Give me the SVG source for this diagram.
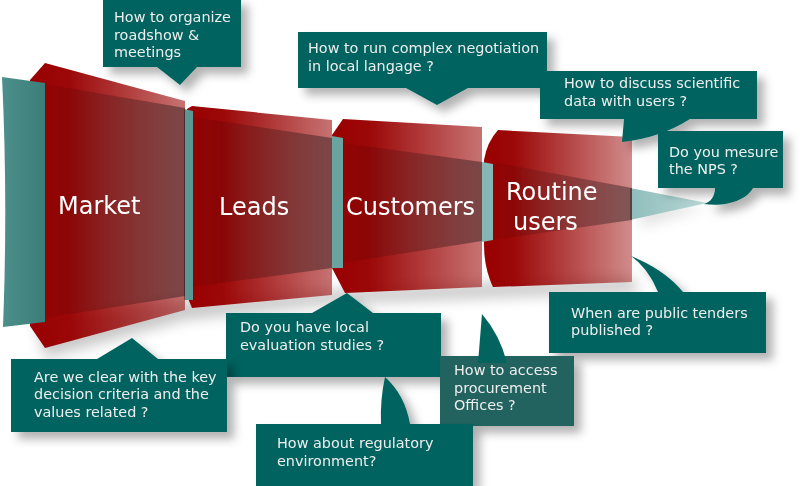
<svg xmlns="http://www.w3.org/2000/svg" width="800" height="486" viewBox="0 0 800 486">
<defs>
<style>
.call{fill:#03645f;filter:url(#ds)}
.ct{fill:#eeeeee}
.lt{fill:#ffffff}
.outer{fill:url(#gOuter)}
.inner{fill:url(#gInner)}
</style>
<filter id="ds" x="-20%" y="-20%" width="150%" height="160%">
<feDropShadow dx="7" dy="7" stdDeviation="5" flood-color="#000" flood-opacity="0.3"/>
</filter>
<filter id="blur" x="-20%" y="-20%" width="140%" height="160%">
<feGaussianBlur stdDeviation="7"/>
</filter>
<linearGradient id="gOuter" x1="0" y1="0" x2="1" y2="0">
<stop offset="0" stop-color="#990000" stop-opacity="1"/>
<stop offset="0.25" stop-color="#990000" stop-opacity="0.97"/>
<stop offset="1" stop-color="#990000" stop-opacity="0.55"/>
</linearGradient>
<linearGradient id="gOuterR" x1="0" y1="0" x2="1" y2="0">
<stop offset="0" stop-color="#990000" stop-opacity="1"/>
<stop offset="0.2" stop-color="#990000" stop-opacity="0.97"/>
<stop offset="1" stop-color="#990000" stop-opacity="0.45"/>
</linearGradient>
<linearGradient id="gInner" x1="0" y1="0" x2="1" y2="0">
<stop offset="0" stop-color="#000" stop-opacity="0.05"/>
<stop offset="1" stop-color="#000" stop-opacity="0.38"/>
</linearGradient>
<linearGradient id="gTip" x1="0" y1="0" x2="1" y2="0">
<stop offset="0" stop-color="#8fbdbb"/>
<stop offset="1" stop-color="#b8d8d6"/>
</linearGradient>
<linearGradient id="gLeft" x1="0" y1="0" x2="1" y2="0">
<stop offset="0" stop-color="#4d8f8b"/>
<stop offset="1" stop-color="#3a7d79"/>
</linearGradient>
</defs>

<!-- funnel shadow -->
<g id="funnel-shadow" filter="url(#blur)" opacity="0.22">
<path d="M35,320 L185,300 L332,290 L482,283 L632,278 L640,292 L482,298 L332,304 L185,320 L45,358 Z" fill="#000"/>
<path d="M640,200 L708,207 L640,228 Z" fill="#000" opacity="0.5"/>
</g>

<g id="funnel" font-family="'DejaVu Sans', Verdana, sans-serif" font-size="24">
<g id="stage-routine">
<path d="M630,188 L707,203 L630,220 Z" fill="url(#gTip)"/>
<path d="M498,130 L632,137 L632,282 L493,287 Q484,268 484,245 L484,160 Q487,142 498,130 Z" fill="url(#gOuterR)"/>
<path d="M493,162 L632,188 L632,220 L493,240 Z" class="inner"/>
<path d="M482,162 L493,164 L493,240 L482,242 Z" fill="#86b6b4"/>
<text class="lt" x="506" y="200">Routine</text>
<text class="lt" x="513" y="230">users</text>
</g>

<g id="stage-customers">
<path d="M332,135 L343,119 L482,127 L482,287 L345,293 L332,268 Z" class="outer"/>
<path d="M343,143 L482,162 L482,241 L343,263 Z" class="inner"/>
<path d="M332,136 L343,138 L343,268 L332,268 Z" fill="#6aa4a1"/>
<text class="lt" x="346" y="215">Customers</text>
</g>

<g id="stage-leads">
<path d="M187,109 L192,106 L332,120 L332,295 L192,308 L187,296 Z" class="outer"/>
<path d="M193,117 L332,138 L332,268 L193,287 Z" class="inner"/>
<path d="M184,109 L193,111 L193,300 L184,300 Z" fill="#5b9895"/>
<text class="lt" x="219" y="215">Leads</text>
</g>

<g id="stage-market">
<path d="M30,80 L45,63 L185,101 L185,310 L45,348 L30,326 Z" class="outer"/>
<path d="M45,84 L185,108 L185,296 L45,318 Z" class="inner"/>
<path d="M2,77 L45,83 L45,322 L3,327 Q8,200 2,77 Z" fill="url(#gLeft)"/>
<text class="lt" x="58" y="214">Market</text>
</g>
</g>

<!-- callouts -->
<g id="callouts" font-family="'DejaVu Sans', Verdana, sans-serif" font-size="14.4">
<g id="c-organize">
<path class="call" d="M103,-2 H241 V67 H197 L180,85 L157,67 H103 Z"/>
<text class="ct" x="114" y="22">How to organize</text>
<text class="ct" x="114" y="39.5">roadshow &amp;</text>
<text class="ct" x="114" y="57">meetings</text>
</g>

<g id="c-negotiation">
<path class="call" d="M298,32 H547 V88 H468 L437,105 L406,88 H298 Z"/>
<text class="ct" x="308" y="53">How to run complex negotiation</text>
<text class="ct" x="308" y="70.5">in local langage ?</text>
</g>

<g id="c-scientific">
<path class="call" d="M540,71 H757 V119 H690 Q660,138 622,142 L624,119 H540 Z"/>
<text class="ct" x="564" y="88">How to discuss scientific</text>
<text class="ct" x="564" y="105.5">data with users ?</text>
</g>

<g id="c-nps">
<path class="call" d="M658,131 H783 V188 H753 C746,201 724,207 704,204 C711,202 715,196 715,188 H658 Z"/>
<text class="ct" x="669" y="157">Do you mesure</text>
<text class="ct" x="669" y="174">the NPS ?</text>
</g>

<g id="c-tenders">
<path class="call" d="M549,292 H658 Q648,268 631,256 Q665,270 683,292 H766 V353 H549 Z"/>
<text class="ct" x="571" y="317.5">When are public tenders</text>
<text class="ct" x="571" y="335">published ?</text>
</g>

<g id="c-local">
<path class="call" d="M226,313 H312 L347,293 L373,313 H441 V377 H226 Z"/>
<text class="ct" x="240" y="332">Do you have local</text>
<text class="ct" x="240" y="349.5">evaluation studies ?</text>
</g>

<g id="c-clear">
<path class="call" d="M11,359 H97 L132,338 L158,359 H227 V432 H11 Z"/>
<text class="ct" x="34" y="381.5">Are we clear with the key</text>
<text class="ct" x="34" y="399">decision criteria and the</text>
<text class="ct" x="34" y="416.5">values related ?</text>
</g>

<g id="c-procurement">
<rect x="440" y="356" width="134" height="70" fill="#22625f" filter="url(#ds)"/>
<path d="M478,363 L482,314 Q500,335 507,363 Z" fill="#03645f"/>
<text class="ct" x="454" y="375">How to access</text>
<text class="ct" x="454" y="392.5">procurement</text>
<text class="ct" x="454" y="410">Offices ?</text>
</g>

<g id="c-regulatory">
<path class="call" d="M256,424 H381 Q380,400 385,377 Q405,395 410,424 H473 V486 H256 Z"/>
<text class="ct" x="277" y="447.5">How about regulatory</text>
<text class="ct" x="277" y="465.5">environment?</text>
</g>
</g>
</svg>
